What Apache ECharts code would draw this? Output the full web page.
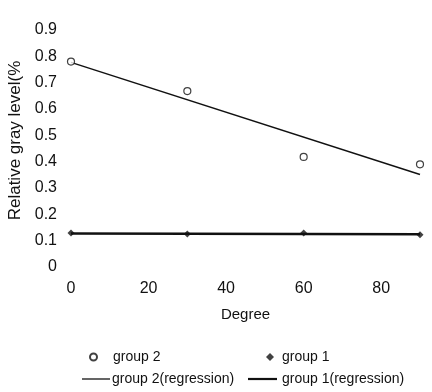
<!DOCTYPE html>
<html>
<head>
<meta charset="utf-8">
<script src="https://cdn.jsdelivr.net/npm/echarts@6/dist/echarts.min.js"></script>
<style>
  html, body { margin: 0; padding: 0; background: #fff; }
  #chart { width: 432px; height: 392px; }
</style>
</head>
<body>
<div id="chart"></div>
<script>
// degrees measured
var degrees = [0, 30, 60, 90];
// relative gray level
var group2 = [0.78, 0.668, 0.418, 0.39];
var group1 = [0.129, 0.125, 0.129, 0.122];
// regression line end points
var group2Reg = [[0, 0.777], [90, 0.351]];
var group1Reg = [[0, 0.127], [90, 0.124]];

var font = "Liberation Sans, Arial, sans-serif";
var ink = "#111";

function pairs(xs, ys) {
  return xs.map(function (x, i) { return [x, ys[i]]; });
}

// one legend box per entry so each can sit where it is in the picture
function legendItem(name, icon, left, top, w, h, pad) {
  return {
    data: [{ name: name, icon: icon }],
    left: left, top: top,
    padding: 0,
    itemWidth: w, itemHeight: h,
    textStyle: { fontFamily: font, fontSize: 14, color: ink, padding: [0, 0, 0, pad] }
  };
}

var chart = echarts.init(document.getElementById("chart"));

var option = {
  animation: false,
  textStyle: { fontFamily: font, color: ink },
  grid: { left: 71, right: 12, top: 30, bottom: 125, outerBoundsMode: "none" },
  legend: [
    legendItem("group 2", "circle", 89, 350, 7, 7, 11),
    legendItem("group 1", "diamond", 266, 350, 8, 8, 3),
    legendItem("group 2(regression)", "rect", 82, 372, 28, 1.3, -3),
    legendItem("group 1(regression)", "rect", 248, 372, 29, 2.2, 0)
  ],
  xAxis: {
    type: "value",
    min: 0, max: 90, interval: 20,
    name: "Degree",
    nameLocation: "middle",
    nameGap: 40,
    nameTextStyle: { fontFamily: font, fontSize: 15, color: ink },
    axisLine: { show: false },
    axisTick: { show: false },
    splitLine: { show: false },
    axisLabel: { margin: 14, fontSize: 16, color: ink, showMaxLabel: false }
  },
  yAxis: {
    type: "value",
    min: 0, max: 0.9, interval: 0.1,
    name: "Relative gray level(%",
    nameLocation: "middle",
    nameGap: 34,
    nameTextStyle: { fontFamily: font, fontSize: 17, color: ink, padding: [0, 0, 0, 16] },
    axisLine: { show: false },
    axisTick: { show: false },
    splitLine: { show: false },
    axisLabel: { margin: 14, fontSize: 16, color: ink }
  },
  series: [
    {
      name: "group 2",
      type: "scatter",
      data: pairs(degrees, group2),
      symbol: "circle",
      symbolSize: 7,
      itemStyle: { color: "#fff", borderColor: ink, borderWidth: 1.2 },
      z: 5
    },
    {
      name: "group 1",
      type: "scatter",
      data: pairs(degrees, group1),
      symbol: "diamond",
      symbolSize: 7,
      itemStyle: { color: ink },
      z: 5
    },
    {
      name: "group 2(regression)",
      type: "line",
      data: group2Reg,
      symbol: "none",
      lineStyle: { color: ink, width: 1.5 },
      itemStyle: { color: ink }
    },
    {
      name: "group 1(regression)",
      type: "line",
      data: group1Reg,
      symbol: "none",
      lineStyle: { color: ink, width: 2.5 },
      itemStyle: { color: ink }
    }
  ]
};

chart.setOption(option);
</script>
</body>
</html>
